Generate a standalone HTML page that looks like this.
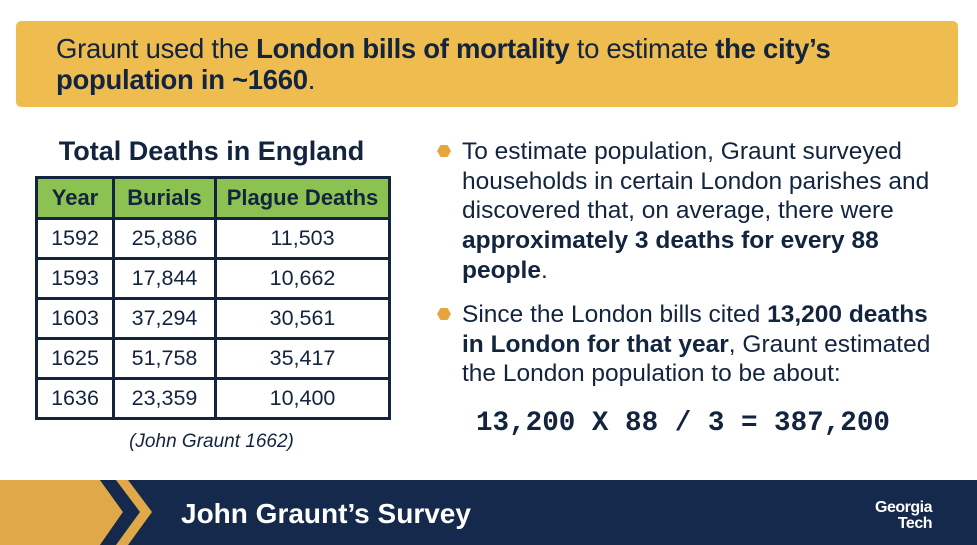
<!DOCTYPE html>
<html><head><meta charset="utf-8">
<style>
*{margin:0;padding:0;box-sizing:border-box}
body{width:977px;height:545px;background:#fff;position:relative;overflow:hidden;font-family:"Liberation Sans",sans-serif;color:#13243f}
.banner{position:absolute;left:16px;top:21px;width:942px;height:86px;background:#efbd4f;border-radius:5px;padding:12px 0 0 40px;font-size:27.5px;line-height:31px;letter-spacing:-0.3px}
.banner span{display:block;width:880px}
b{font-weight:bold}
.title{position:absolute;left:25px;top:136px;width:373px;text-align:center;font-size:27px;font-weight:bold}
table{position:absolute;left:35px;top:176px;border-collapse:collapse;font-size:21.5px}
td,th{border:3px solid #13243f;text-align:center;height:40px}
th{background:#8cc251;font-weight:bold;height:41px;font-size:22px}
.bul{position:absolute;left:462px;font-size:24.5px;line-height:29.7px;width:480px}
.hex{position:absolute;left:-25px;top:8px;width:14px;height:12px;background:#e8a53c;clip-path:polygon(25% 0,75% 0,100% 50%,75% 100%,25% 100%,0 50%)}
.formula{position:absolute;left:476px;top:408px;font-family:"Liberation Mono",monospace;font-weight:bold;font-size:27.6px}
.cite{position:absolute;left:25px;top:431px;width:373px;text-align:center;font-style:italic;font-size:19px}
.footer{position:absolute;left:0;top:480px;width:977px;height:65px;background:#14294b}
.ft{position:absolute;left:181px;top:498px;color:#fff;font-weight:bold;font-size:28px}
.logo{position:absolute;left:840px;top:500px;color:#fff;font-weight:bold;font-size:16px;line-height:16px;text-align:right;width:92px;letter-spacing:-0.5px}
</style></head><body>
<div class="banner"><span>Graunt used the <b>London bills of mortality</b> to estimate <b>the city’s population in ~1660</b>.</span></div>
<div class="title">Total Deaths in England</div>
<table>
<tr><th style="width:77px">Year</th><th style="width:102px">Burials</th><th style="width:174px">Plague Deaths</th></tr>
<tr><td>1592</td><td>25,886</td><td>11,503</td></tr>
<tr><td>1593</td><td>17,844</td><td>10,662</td></tr>
<tr><td>1603</td><td>37,294</td><td>30,561</td></tr>
<tr><td>1625</td><td>51,758</td><td>35,417</td></tr>
<tr><td>1636</td><td>23,359</td><td>10,400</td></tr>
</table>
<div class="cite">(John Graunt 1662)</div>
<div class="bul" style="top:137px"><span class="hex"></span>To estimate population, Graunt surveyed households in certain London parishes and discovered that, on average, there were <b>approximately 3 deaths for every 88 people</b>.</div>
<div class="bul" style="top:300px"><span class="hex"></span>Since the London bills cited <b>13,200 deaths in London for that year</b>, Graunt estimated the London population to be about:</div>
<div class="formula">13,200 X 88 / 3 = 387,200</div>
<div class="footer">
<svg width="160" height="65" style="position:absolute;left:0;top:0">
<polygon points="0,0 100,0 123,32 100,65 0,65" fill="#e1a84a"/>
<polygon points="100,0 116,0 140,32 116,65 100,65 123,32" fill="#14294b"/>
<polygon points="116,0 128,0 152,32 128,65 116,65 140,32" fill="#e1a84a"/>
</svg>
</div>
<div class="ft">John Graunt’s Survey</div>
<div class="logo">Georgia<br>Tech</div>
</body></html>
